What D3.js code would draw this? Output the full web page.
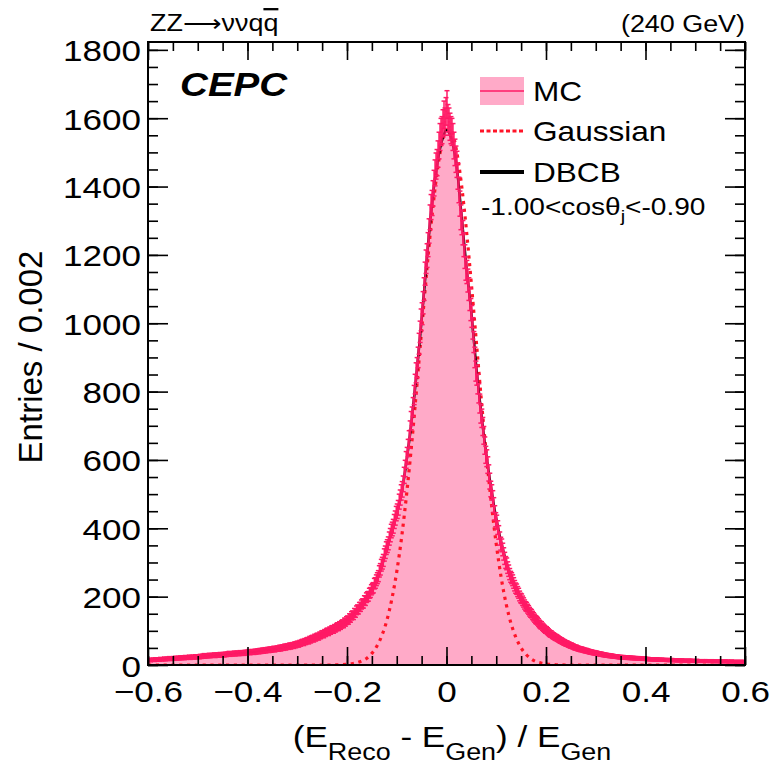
<!DOCTYPE html>
<html>
<head>
<meta charset="utf-8">
<script src="https://cdn.jsdelivr.net/npm/d3@7"></script>
<style>
body { margin: 0; background: #fff; }
svg { display: block; font-family: "Liberation Sans", Arial, Helvetica, sans-serif; }
</style>
</head>
<body>
<div id="chart"></div>
<script>
// histogram binning (Entries / 0.002)
var binLow = -0.6, binWidth = 0.002;

// MC entries per bin (600 bins, -0.6 .. 0.6)
var mcCounts = [
  14,15,13,16,15, 16,14,17,15,16, 17,15,18,16,17, 17,19,16,18,18,
  18,20,17,19,19, 20,18,21,19,20, 21,19,22,20,21, 22,20,23,21,22,
  22,24,21,23,23, 24,22,25,23,24, 25,23,26,24,26, 26,28,25,27,27,
  27,29,26,28,28, 28,30,27,29,29, 30,28,31,29,30, 31,29,32,30,32,
  32,34,31,33,33, 33,35,32,34,34, 35,33,36,34,35, 36,34,37,35,37,
  37,39,36,38,38, 39,37,40,38,40, 41,39,42,40,42, 43,41,44,42,44,
  45,43,46,44,46, 46,48,45,47,48, 49,47,51,48,51, 52,50,54,51,54,
  55,53,57,54,57, 58,56,60,58,61, 62,60,64,63,66, 67,65,69,68,71,
  72,70,75,73,77, 78,76,81,79,83, 84,82,87,86,90, 91,89,94,93,97,
  98,96,101,100,104, 105,103,108,107,111, 113,111,116,115,119, 121,120,126,125,130,
  132,131,138,137,144, 146,145,153,152,160, 163,162,170,170,177, 180,180,189,188,197,
  200,201,210,212,220, 224,226,238,240,248, 254,260,274,280,292, 298,306,322,330,342,
  348,356,370,380,392, 398,406,420,430,443, 450,460,478,490,505, 514,530,555,575,600,
  612,635,660,688,715, 728,755,790,822,855, 870,900,940,975,1010, 1028,1060,1100,1145,1180,
  1198,1230,1270,1310,1340, 1352,1380,1410,1440,1460, 1470,1495,1520,1545,1560, 1565,1585,1610,1590,1620,
  1640,1600,1590,1575,1565, 1560,1545,1520,1500,1480, 1465,1430,1390,1350,1310, 1295,1265,1230,1195,1160,
  1150,1125,1100,1070,1040, 1020,985,945,900,860, 848,822,795,765,735, 722,698,672,642,615,
  605,585,562,538,515, 505,488,468,445,425, 418,402,388,370,355, 350,338,325,312,300,
  296,285,276,266,258, 254,248,240,232,225, 222,215,210,202,196, 194,188,183,177,172,
  170,165,161,156,152, 150,145,141,137,133, 131,128,124,120,117, 116,112,109,106,103,
  102,99,96,93,91, 90,87,85,83,81, 80,78,76,74,72, 71,69,67,66,64,
  63,62,60,59,57, 57,55,54,52,51, 51,49,48,47,46, 46,45,44,43,42,
  42,41,40,39,38, 38,37,36,36,35, 35,34,33,33,32, 32,31,30,30,29,
  29,28,28,27,27, 27,26,26,25,25, 25,24,24,23,23, 23,22,23,22,22,
  22,21,22,21,21, 21,20,21,20,20, 20,19,20,19,19, 19,18,19,18,18,
  18,17,18,17,17, 17,16,17,16,16, 16,17,16,15,16, 15,16,15,15,15,
  15,14,15,14,15, 14,15,14,14,14, 14,13,14,13,14, 13,14,13,13,13,
  13,12,13,13,13, 13,12,13,12,12, 12,13,12,12,12, 12,11,12,12,12,
  12,11,12,11,11, 11,12,11,11,11, 11,10,11,11,11, 11,10,11,10,11,
  11,10,11,10,10, 10,11,10,10,10, 10,9,10,10,10, 10,9,10,10,10
];

// fitted curves, sampled every 0.01 from -0.6 to 0.6
var curveStart = -0.6, curveStep = 0.01;
var dbcbValues = [
  14,15,16,17,18,19,20,21,22,23,
  24,26,27,28,29,30,32,33,34,35,
  37,38,40,42,44,46,48,51,54,57,
  61,66,71,77,83,90,97,104,111,119,
  130,144,160,177,197,220,248,290,340,392,
  443,505,600,715,855,1010,1180,1340,1455,1530,
  1565,
  1540,1465,1320,1165,1030,870,735,615,515,428,
  358,302,259,225,196,172,152,133,117,103,
  91,81,72,64,57,51,46,42,38,35,
  32,29,27,25,23,22,21,20,19,18,
  17,16,16,15,15,14,14,13,13,13,
  12,12,12,11,11,11,11,10,10,10
];
var gausValues = [
  0,0,0,0,0,0,0,0,0,0,
  0,0,0,0,0,0,0,0,0,0,
  0,0,0,0,0,0,0,0,0,0,
  0,0,0,0,0,0,0,0,
  0.4,0.9,1.9,3.6,6.6,12,20,34,55,86,130,192,273,376,502,647,810,980,1148,1302,1430,1521,
  1566,
  1561,1506,1407,1273,1115,946,776,617,475,354,255,178,120,79,50,31,18,10,5.8,3.1,1.6,0.8,0.4,
  0,0,0,0,0,0,0,0,0,0,
  0,0,0,0,0,0,0,0,0,0,
  0,0,0,0,0,0,0,0,0,0,
  0,0,0,0,0,0,0
];

var xTicks = [-0.6, -0.4, -0.2, 0, 0.2, 0.4, 0.6];
var yTicks = [0, 200, 400, 600, 800, 1000, 1200, 1400, 1600, 1800];
var legendLabels = ["MC", "Gaussian", "DBCB"];

var margin = {top: 42, right: 28, bottom: 100, left: 148},
    width = 745 - margin.left,
    height = 665 - margin.top;

var pink = "#ffaac8", pinkLine = "#ff1a66";
var stretch = 1.17;

var x = d3.scaleLinear().domain([-0.6, 0.6]).range([0, width]);
var y = d3.scaleLinear().domain([0, 1823]).range([height, 0]);

var svg = d3.select("#chart").append("svg")
    .attr("width", 773)
    .attr("height", 765);

var g = svg.append("g")
    .attr("transform", "translate(" + margin.left + "," + margin.top + ")");

var defs = svg.append("defs");
defs.append("clipPath").attr("id", "plotclip")
  .append("rect").attr("width", width).attr("height", height);

var plot = g.append("g").attr("clip-path", "url(#plotclip)");

// histogram fill
var bins = mcCounts.map(function(v, i) { return {lo: binLow + i * binWidth, v: v}; });
var stepData = bins.concat([{lo: binLow + bins.length * binWidth, v: bins[bins.length - 1].v}]);

var area = d3.area()
    .curve(d3.curveStepAfter)
    .x(function(d) { return x(d.lo); })
    .y0(y(0))
    .y1(function(d) { return y(d.v); });

plot.append("path")
    .attr("d", area(stepData))
    .attr("fill", pink);

// fitted curves
function curvePoints(vals) {
  return vals.map(function(v, i) { return {x: curveStart + i * curveStep, v: v}; });
}
var fitLine = d3.line()
    .curve(d3.curveMonotoneX)
    .x(function(d) { return x(d.x); })
    .y(function(d) { return y(d.v); });

plot.append("path")
    .attr("d", fitLine(curvePoints(gausValues)))
    .attr("fill", "none")
    .attr("stroke", "#ff1428")
    .attr("stroke-width", 3.2)
    .attr("stroke-dasharray", "3.2,4.6");

plot.append("path")
    .attr("d", fitLine(curvePoints(dbcbValues)))
    .attr("fill", "none")
    .attr("stroke", "#000")
    .attr("stroke-width", 2.5);

// MC error bars
var eb = plot.append("g")
    .attr("stroke", pinkLine)
    .attr("stroke-width", 1.5)
    .attr("fill", "none");

bins.forEach(function(b) {
  var cx = x(b.lo + binWidth / 2),
      err = Math.sqrt(b.v),
      yHi = y(b.v + err), yLo = y(Math.max(b.v - err, 0));
  eb.append("line").attr("x1", cx).attr("x2", cx).attr("y1", yHi).attr("y2", yLo);
  eb.append("line").attr("x1", cx - 2.5).attr("x2", cx + 2.5).attr("y1", yHi).attr("y2", yHi);
  eb.append("line").attr("x1", cx - 2.5).attr("x2", cx + 2.5).attr("y1", yLo).attr("y2", yLo);
  eb.append("line").attr("x1", x(b.lo)).attr("x2", x(b.lo + binWidth)).attr("y1", y(b.v)).attr("y2", y(b.v));
});

// axes, ROOT style ticks inside the frame
var xMinor = d3.range(-0.6, 0.6001, 0.05).map(function(v) { return Math.round(v * 100) / 100; });
var yMinor = d3.range(0, 1801, 50);

function cleanAxis(sel) {
  sel.attr("font-size", null).attr("font-family", null);
  sel.select(".domain").remove();
  sel.selectAll(".tick line").attr("stroke-width", 1.6);
}

g.append("g").attr("transform", "translate(0," + height + ")")
  .call(d3.axisBottom(x).tickValues(xMinor).tickSize(-9).tickFormat(""))
  .call(cleanAxis);
g.append("g")
  .call(d3.axisTop(x).tickValues(xMinor).tickSize(-9).tickFormat(""))
  .call(cleanAxis);
g.append("g")
  .call(d3.axisLeft(y).tickValues(yMinor).tickSize(-10).tickFormat(""))
  .call(cleanAxis);
g.append("g").attr("transform", "translate(" + width + ",0)")
  .call(d3.axisRight(y).tickValues(yMinor).tickSize(-10).tickFormat(""))
  .call(cleanAxis);

var xAxis = g.append("g").attr("transform", "translate(0," + height + ")")
  .call(d3.axisBottom(x).tickValues(xTicks).tickSize(-18)
    .tickFormat(function(d) { return d === 0 ? "0" : (d < 0 ? "\u2212" : "") + Math.abs(d).toFixed(1); }))
  .call(cleanAxis);
xAxis.selectAll(".tick text")
  .attr("y", null).attr("dy", null)
  .attr("transform", "translate(0,37) scale(" + stretch + ",1)")
  .attr("font-size", 30)
  .attr("fill", "#000");

g.append("g")
  .call(d3.axisTop(x).tickValues(xTicks).tickSize(-18).tickFormat(""))
  .call(cleanAxis);

var yAxis = g.append("g")
  .call(d3.axisLeft(y).tickValues(yTicks).tickSize(-20).tickFormat(d3.format("d")))
  .call(cleanAxis);
yAxis.selectAll(".tick text")
  .attr("x", null).attr("dy", null)
  .attr("transform", "translate(-7,11) scale(" + stretch + ",1)")
  .attr("font-size", 30)
  .attr("fill", "#000");

g.append("g").attr("transform", "translate(" + width + ",0)")
  .call(d3.axisRight(y).tickValues(yTicks).tickSize(-20).tickFormat(""))
  .call(cleanAxis);

// frame
g.append("rect")
    .attr("width", width).attr("height", height)
    .attr("fill", "none").attr("stroke", "#000").attr("stroke-width", 2);

// axis titles
var xTitle = svg.append("text")
    .attr("transform", "translate(452,747) scale(" + stretch + ",1)")
    .attr("text-anchor", "middle")
    .attr("font-size", 30);
xTitle.append("tspan").text("(E");
xTitle.append("tspan").attr("font-size", 23).attr("dy", 13).text("Reco");
xTitle.append("tspan").attr("dy", -13).text(" - E");
xTitle.append("tspan").attr("font-size", 23).attr("dy", 13).text("Gen");
xTitle.append("tspan").attr("dy", -13).text(") / E");
xTitle.append("tspan").attr("font-size", 23).attr("dy", 13).text("Gen");

svg.append("text")
    .attr("transform", "translate(42,357) rotate(-90)")
    .attr("text-anchor", "middle")
    .attr("font-size", 33)
    .text("Entries / 0.002");

// header texts
var head = svg.append("text")
    .attr("transform", "translate(150,31) scale(" + stretch + ",1)")
    .attr("font-size", 23);
head.append("tspan").text("ZZ\u27f6\u03bd\u03bdq");
head.append("tspan").style("text-decoration", "overline").text("q");

svg.append("text")
    .attr("transform", "translate(745,32) scale(" + stretch + ",1)")
    .attr("text-anchor", "end")
    .attr("font-size", 23)
    .text("(240 GeV)");

svg.append("text")
    .attr("transform", "translate(180,96) scale(" + stretch + ",1)")
    .attr("font-size", 33)
    .attr("font-weight", "bold")
    .attr("font-style", "italic")
    .text("CEPC");

// legend
var legend = svg.append("g");
var rowY = [91, 131, 172];

legend.append("rect").attr("x", 480).attr("y", 77).attr("width", 44).attr("height", 28).attr("fill", pink);
legend.append("line").attr("x1", 480).attr("x2", 524).attr("y1", rowY[0]).attr("y2", rowY[0])
    .attr("stroke", pinkLine).attr("stroke-width", 1.5);
legend.append("line").attr("x1", 480).attr("x2", 524).attr("y1", rowY[1]).attr("y2", rowY[1])
    .attr("stroke", "#ff1428").attr("stroke-width", 3.2).attr("stroke-dasharray", "4,2.5");
legend.append("line").attr("x1", 480).attr("x2", 524).attr("y1", rowY[2]).attr("y2", rowY[2])
    .attr("stroke", "#000").attr("stroke-width", 4);

legendLabels.forEach(function(lab, i) {
  legend.append("text")
      .attr("transform", "translate(533," + (rowY[i] + 10) + ") scale(" + stretch + ",1)")
      .attr("font-size", 27)
      .text(lab);
});

var cut = svg.append("text")
    .attr("transform", "translate(481,215) scale(" + stretch + ",1)")
    .attr("font-size", 24);
cut.append("tspan").text("-1.00<cos\u03b8");
cut.append("tspan").attr("font-size", 17).attr("dy", 7).text("j");
cut.append("tspan").attr("dy", -7).text("<-0.90");
</script>
</body>
</html>
